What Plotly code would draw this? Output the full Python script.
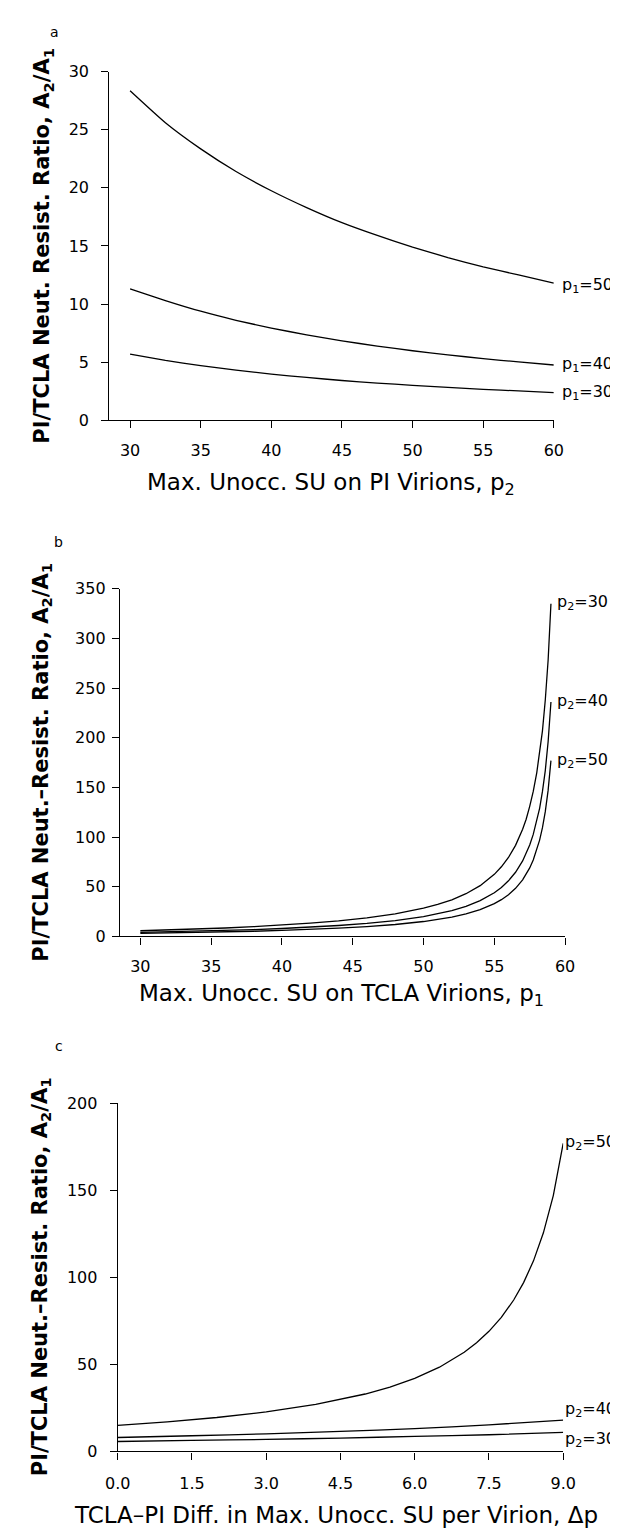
import plotly.graph_objects as go

# ---------------- data ----------------
# Panel a: ratio A2/A1 vs p2, for p1 = 50, 40, 30
a_x = [30, 32.5, 35, 37.5, 40, 42.5, 45, 47.5, 50, 52.5, 55, 57.5, 60]
a_p1_50 = [28.35, 25.6, 23.35, 21.4, 19.75, 18.3, 17.0, 15.9, 14.9, 14.0, 13.2, 12.5, 11.8]
a_p1_40 = [11.3, 10.3, 9.38, 8.6, 7.93, 7.35, 6.83, 6.38, 5.98, 5.63, 5.3, 5.02, 4.75]
a_p1_30 = [5.68, 5.15, 4.7, 4.31, 3.97, 3.68, 3.42, 3.2, 3.0, 2.82, 2.66, 2.52, 2.38]
a_labels = ["p<sub>1</sub>=50", "p<sub>1</sub>=40", "p<sub>1</sub>=30"]
a_xticks = [30, 35, 40, 45, 50, 55, 60]
a_yticks = [0, 5, 10, 15, 20, 25, 30]

# Panel b: ratio vs p1, for p2 = 30, 40, 50
b_x = [30, 32, 34, 36, 38, 40, 42, 44, 46, 48, 50, 51, 52, 53, 54, 55, 55.5, 56, 56.5,
       57, 57.25, 57.5, 57.75, 58, 58.2, 58.4, 58.6, 58.8, 59]
b_p2_30 = [5.7, 6.5, 7.4, 8.5, 9.8, 11.4, 13.3, 15.6, 18.7, 22.7, 28.4, 32.2, 36.9, 43.0, 51.1,
           62.5, 70.1, 79.5, 91.7, 108, 118, 131, 146, 165, 184, 207, 238, 278, 335]
b_p2_40 = [4.0, 4.6, 5.2, 6.0, 6.9, 8.0, 9.3, 11.0, 13.1, 16.0, 20.0, 22.7, 26.0, 30.3, 36.0,
           44.0, 49.3, 56.0, 64.6, 76.0, 83.3, 92.0, 102.7, 116, 129, 146, 167, 196, 236]
b_p2_50 = [3.0, 3.4, 3.9, 4.5, 5.2, 6.0, 7.0, 8.3, 9.9, 12.0, 15.0, 17.0, 19.5, 22.7, 27.0,
           33.0, 37.0, 42.0, 48.4, 57.0, 62.5, 69.0, 77.0, 87.0, 97.0, 109.5, 125.6, 147, 177]
b_labels = ["p<sub>2</sub>=30", "p<sub>2</sub>=40", "p<sub>2</sub>=50"]
b_xticks = [30, 35, 40, 45, 50, 55, 60]
b_yticks = [0, 50, 100, 150, 200, 250, 300, 350]

# Panel c: ratio vs delta p, for p2 = 50, 40, 30
c_x50 = [0, 1, 2, 3, 4, 5, 5.5, 6, 6.5, 7, 7.25, 7.5, 7.75, 8, 8.2, 8.4, 8.6, 8.8, 9]
c_p2_50 = [15.0, 17.0, 19.5, 22.7, 27.0, 33.0, 37.0, 42.0, 48.4, 57.0, 62.5, 69.0, 77.0,
           87.0, 97.0, 109.5, 125.6, 147, 177]
c_x = [0, 1.5, 3, 4.5, 6, 7.5, 9]
c_p2_40 = [8.0, 9.0, 10.1, 11.5, 13.1, 15.3, 18.0]
c_p2_30 = [5.7, 6.3, 6.9, 7.7, 8.6, 9.6, 10.9]
c_labels = ["p<sub>2</sub>=50", "p<sub>2</sub>=40", "p<sub>2</sub>=30"]
c_xticks = [0, 1.5, 3, 4.5, 6, 7.5, 9]
c_xticktext = ["0.0", "1.5", "3.0", "4.5", "6.0", "7.5", "9.0"]
c_yticks = [0, 50, 100, 150, 200]

# ---------------- layout helpers ----------------
W, H = 618, 1528
FONT = "DejaVu Sans"


def px(x):
    return x / W


def py(y):
    return 1 - y / H


fig = go.Figure()
line = dict(color="black", width=1.3)

for ys in (a_p1_50, a_p1_40, a_p1_30):
    fig.add_trace(go.Scatter(x=a_x, y=ys, mode="lines", line=dict(shape="spline", smoothing=0.5, **line),
                             xaxis="x", yaxis="y", hoverinfo="skip"))
for ys in (b_p2_30, b_p2_40, b_p2_50):
    fig.add_trace(go.Scatter(x=b_x, y=ys, mode="lines", line=line,
                             xaxis="x2", yaxis="y2", hoverinfo="skip"))
fig.add_trace(go.Scatter(x=c_x50, y=c_p2_50, mode="lines", line=line,
                         xaxis="x3", yaxis="y3", hoverinfo="skip"))
for ys in (c_p2_40, c_p2_30):
    fig.add_trace(go.Scatter(x=c_x, y=ys, mode="lines", line=dict(shape="spline", smoothing=0.5, **line),
                             xaxis="x3", yaxis="y3", hoverinfo="skip"))

tickfont = dict(family=FONT, size=16, color="black")
common = dict(showgrid=False, zeroline=False, showline=True, linecolor="black", linewidth=1.2,
              ticks="outside", ticklen=7, tickwidth=1.2, tickcolor="black", tickfont=tickfont)

fig.update_layout(
    width=W, height=H,
    margin=dict(l=0, r=0, t=0, b=0),
    paper_bgcolor="white", plot_bgcolor="white",
    showlegend=False,
    xaxis=dict(domain=[px(92.2), px(556.2)], range=[28.53, 60], tickvals=a_xticks,
               anchor="y", ticklabelstandoff=8, **common),
    yaxis=dict(domain=[py(408.3), py(55.3)], range=[0, 30], tickvals=a_yticks,
               anchor="x", ticklabelstandoff=9, **common),
    xaxis2=dict(domain=[px(103.3), px(568)], range=[28.56, 60], tickvals=b_xticks,
                anchor="y2", ticklabelstandoff=8, **common),
    yaxis2=dict(domain=[py(931), py(579)], range=[0, 350], tickvals=b_yticks,
                anchor="x2", ticklabelstandoff=3, **common),
    xaxis3=dict(domain=[px(101), px(566)], range=[0, 9], tickvals=c_xticks, ticktext=c_xticktext,
                anchor="y3", ticklabelstandoff=10, **common),
    yaxis3=dict(domain=[py(1452.5), py(1100)], range=[0, 200], tickvals=c_yticks,
                anchor="x3", ticklabelstandoff=9, **common),
)

ann = []
tfont = dict(family=FONT, size=23, color="black")
yfont = dict(family=FONT + ", sans-serif", size=21, color="black", weight="bold")
lfont = dict(family=FONT, size=16, color="black")
pfont = dict(family=FONT, size=14, color="black")


def text(x, y, t, font, xanchor="center", angle=0):
    ann.append(dict(xref="paper", yref="paper", x=px(x), y=py(y), text=t, showarrow=False,
                    xanchor=xanchor, yanchor="middle", font=font, textangle=angle))


# panel letters
text(34.7, 15, "a", pfont)
text(39.4, 531.7, "b", pfont)
text(39.4, 1041.7, "c", pfont)

# axis titles
text(324, 473.3, "Max. Unocc. SU on PI Virions, p<sub>2</sub>", tfont)
text(23.5, 232, "PI/TCLA Neut. Resist. Ratio, A<sub>2</sub>/A<sub>1</sub>", yfont, angle=-90)
text(335, 990, "Max. Unocc. SU on TCLA Virions, p<sub>1</sub>", tfont)
text(21, 755, "PI/TCLA Neut.\u2013Resist. Ratio, A<sub>2</sub>/A<sub>1</sub>", yfont, angle=-90)
text(329, 1516.7, "TCLA\u2013PI Diff. in Max. Unocc. SU per Virion, \u0394p", tfont)
text(21, 1276, "PI/TCLA Neut.\u2013Resist. Ratio, A<sub>2</sub>/A<sub>1</sub>", yfont, angle=-90)

# curve labels
for lab, yy in zip(a_labels, [271.7, 351.7, 380]):
    text(563, yy, lab, lfont, xanchor="left")
for lab, yy in zip(b_labels, [593.3, 692.7, 753.3]):
    text(557, yy, lab, lfont, xanchor="left")
for lab, yy in zip(c_labels, [1139.3, 1410, 1440]):
    text(566, yy, lab, lfont, xanchor="left")

fig.update_layout(annotations=ann)
fig.write_html("out.html")
